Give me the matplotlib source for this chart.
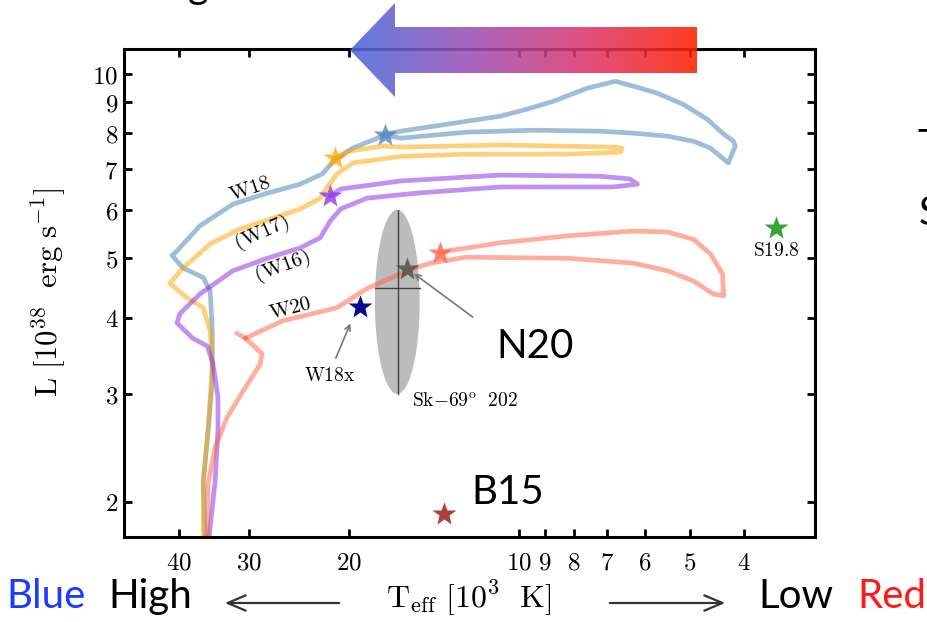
import numpy as np
import matplotlib
matplotlib.use('Agg')
import matplotlib.pyplot as plt
from matplotlib.colors import LinearSegmentedColormap
from matplotlib.patches import Polygon
from matplotlib.ticker import NullLocator

plt.rcParams['mathtext.fontset'] = 'cm'
plt.rcParams['font.family'] = ['DejaVu Sans']

# evolutionary tracks: Teff in 10^3 K, L in 10^38 erg/s
w18_teff = [35.9, 36.2, 35.5, 34.9, 34.9, 35.2, 36.2, 39.3, 41.1, 40.3, 36.7, 32.1,
            27.9, 24.4, 22.3, 21.3, 19.7, 17.3, 16.2, 12.4, 9.44, 7.19, 6.29, 5.47,
            4.92, 4.59, 4.37, 4.27, 4.15, 4.18, 4.35, 4.65, 5.13, 5.70, 6.11, 6.76,
            7.58, 8.71, 9.68, 10.8, 16.2, 17.3]
w18_lum = [1.69, 2.16, 2.61, 3.15, 3.80, 4.42, 4.65, 4.82, 5.05, 5.14, 5.65, 6.13,
           6.39, 6.61, 6.87, 7.21, 7.57, 7.95, 7.86, 8.04, 8.10, 8.07, 8.01, 7.92,
           7.77, 7.57, 7.29, 7.16, 7.63, 7.77, 7.98, 8.44, 8.93, 9.31, 9.49, 9.74,
           9.49, 9.03, 8.77, 8.54, 8.07, 7.98]

w17_teff = [36.2, 36.2, 35.5, 34.9, 35.2, 36.2, 38.7, 41.5, 39.3, 35.2, 31.2, 27.2,
            24.4, 22.5, 21.9, 21.0, 19.7, 16.2, 12.4, 8.22, 6.62, 6.58, 6.82, 10.8,
            16.2, 17.4, 20.1, 21.2]
w17_lum = [1.69, 2.16, 2.61, 3.36, 3.80, 4.15, 4.31, 4.55, 4.82, 5.28, 5.58, 5.82,
           6.02, 6.27, 6.51, 6.87, 7.16, 7.34, 7.40, 7.40, 7.46, 7.57, 7.60, 7.66,
           7.60, 7.63, 7.48, 7.29]

w16_teff = [35.5, 34.5, 34.1, 34.1, 34.8, 35.6, 37.8, 40.3, 39.8, 36.7, 32.1, 27.9,
            24.4, 22.5, 21.6, 20.7, 18.6, 15.2, 10.8, 6.82, 6.18, 6.37, 7.19, 10.8,
            16.2, 20.7, 21.6]
w16_lum = [1.69, 2.16, 2.61, 2.96, 3.36, 3.59, 3.70, 3.92, 4.06, 4.37, 4.77, 5.00,
           5.20, 5.40, 5.75, 6.02, 6.27, 6.39, 6.54, 6.54, 6.61, 6.74, 6.81, 6.84,
           6.69, 6.49, 6.32]

# W20: lower branch up to the hook, then the main track
w20a_teff = [35.6, 35.5, 34.5, 32.9, 30.8, 28.7, 28.5, 30.5]
w20a_lum = [1.69, 2.14, 2.45, 2.74, 3.03, 3.36, 3.49, 3.70]
w20_hook_teff = [31.6, 30.5]
w20_hook_lum = [3.77, 3.70]
w20_teff = [30.5, 26.2, 21.0, 18.6, 16.2, 15.2, 14.2, 12.4, 8.22, 6.29, 5.47, 4.92,
            4.54, 4.35, 4.37, 4.59, 4.92, 5.47, 6.29, 8.22, 10.8, 13.4, 13.8]
w20_lum = [3.70, 3.95, 4.15, 4.46, 4.72, 4.83, 4.92, 5.02, 5.00, 4.91, 4.77, 4.59,
           4.37, 4.34, 4.71, 5.08, 5.37, 5.52, 5.54, 5.44, 5.30, 5.14, 5.10]

# pre-SN positions and other models
star_names = ['W18', 'W17', 'W16', 'W20', 'N20', 'W18x', 'S19.8', 'B15']
star_teff = [17.3, 21.2, 21.6, 13.8, 15.8, 19.1, 3.51, 13.6]
star_lum = [7.95, 7.29, 6.32, 5.10, 4.80, 4.16, 5.60, 1.91]
star_colors = ['#4682b4', '#ffa500', '#8a2be2', '#ff6347', '#444444', '#0a0a90',
               '#2e9e2e', '#a52a2a']
star_alpha = [0.75, 0.75, 0.75, 0.8, 0.75, 1.0, 0.95, 0.9]

# Sk -69 202 (progenitor) error region
sk_teff, sk_teff_lo, sk_teff_hi = 16.4, 15.0, 18.0
sk_lum, sk_lum_lo, sk_lum_hi = 4.47, 3.0, 6.0

track_colors = {'W18': '#4682b4', 'W17': '#ffa500', 'W16': '#8a2be2', 'W20': '#ff6347'}

fig = plt.figure(figsize=(9.28, 6.22), dpi=100)
ax = fig.add_axes([0.1336, 0.1367, 0.7446, 0.7846])

lw = 3.4
ta = 0.52
ax.plot(w18_teff, w18_lum, color=track_colors['W18'], lw=lw, alpha=ta, solid_capstyle='round', solid_joinstyle='round')
ax.plot(w17_teff, w17_lum, color=track_colors['W17'], lw=lw, alpha=ta, solid_capstyle='round', solid_joinstyle='round')
ax.plot(w16_teff, w16_lum, color=track_colors['W16'], lw=lw, alpha=ta, solid_capstyle='round', solid_joinstyle='round')
ax.plot(w20a_teff, w20a_lum, color=track_colors['W20'], lw=lw, alpha=ta, solid_capstyle='round', solid_joinstyle='round')
ax.plot(w20_hook_teff, w20_hook_lum, color=track_colors['W20'], lw=lw, alpha=ta, solid_capstyle='round')
ax.plot(w20_teff, w20_lum, color=track_colors['W20'], lw=lw, alpha=ta, solid_capstyle='round', solid_joinstyle='round')

# error ellipse drawn in log space
t = np.linspace(0, 2 * np.pi, 200)
lt0 = 0.5 * (np.log10(sk_teff_lo) + np.log10(sk_teff_hi))
lt_w = 0.5 * (np.log10(sk_teff_hi) - np.log10(sk_teff_lo))
ll0 = 0.5 * (np.log10(sk_lum_lo) + np.log10(sk_lum_hi))
ll_h = 0.5 * (np.log10(sk_lum_hi) - np.log10(sk_lum_lo))
ax.fill(10 ** (lt0 + lt_w * np.cos(t)), 10 ** (ll0 + ll_h * np.sin(t)),
        color='#a0a0a0', alpha=0.7, lw=0, zorder=1)
ax.plot([sk_teff, sk_teff], [sk_lum_lo, sk_lum_hi], color='#222222', lw=1, alpha=0.8, zorder=2)
ax.plot([sk_teff_lo, sk_teff_hi], [sk_lum, sk_lum], color='#222222', lw=1, alpha=0.8, zorder=2)

for i in range(len(star_names)):
    ax.plot(star_teff[i], star_lum[i], marker='*', ms=18, color=star_colors[i],
            alpha=star_alpha[i], mec='none', zorder=4)

ax.annotate('', xy=(15.5, 4.75), xytext=(11.97, 3.98),
            arrowprops=dict(arrowstyle='->', color='#777777', lw=1.2))
ax.annotate('', xy=(19.8, 3.95), xytext=(21.2, 3.40),
            arrowprops=dict(arrowstyle='->', color='#777777', lw=1.2))

ax.text(29.9, 6.51, r'$\mathrm{W18}$', fontsize=15, rotation=19, ha='center', va='center')
ax.text(28.5, 5.50, r'$\mathrm{(W17)}$', fontsize=15, rotation=24, ha='center', va='center')
ax.text(26.2, 4.85, r'$\mathrm{(W16)}$', fontsize=15, rotation=20, ha='center', va='center')
ax.text(25.4, 4.15, r'$\mathrm{W20}$', fontsize=15, rotation=14, ha='center', va='center')
ax.text(21.6, 3.21, r'$\mathrm{W18x}$', fontsize=14, ha='center', va='center')
ax.text(15.5, 2.93, r'$\mathrm{Sk{-}69^{o}\ \ 202}$', fontsize=14, ha='left', va='center')
ax.text(3.51, 5.14, r'$\mathrm{S19.8}$', fontsize=14, ha='center', va='center')
ax.text(9.37, 3.59, 'N20', fontsize=29, family='Lato', ha='center', va='center')
ax.text(10.46, 2.07, 'B15', fontsize=29, family='Lato', ha='center', va='center')

ax.set_xscale('log')
ax.set_yscale('log')
ax.set_xlim(50, 3)
ax.set_ylim(1.75, 11)

xt = [40, 30, 20, 10, 9, 8, 7, 6, 5, 4]
yt = [2, 3, 4, 5, 6, 7, 8, 9, 10]
ax.xaxis.set_minor_locator(NullLocator())
ax.yaxis.set_minor_locator(NullLocator())
ax.set_xticks(xt)
ax.set_xticklabels([r'$%d$' % v for v in xt])
ax.set_yticks(yt)
ax.set_yticklabels([r'$%d$' % v for v in yt])
ax.tick_params(direction='in', top=True, right=True, length=6, width=2, labelsize=18)
ax.tick_params(axis='x', pad=10)
ax.tick_params(axis='y', pad=4)
for s in ax.spines.values():
    s.set_linewidth(2.2)

ax.set_xlabel(r'$\mathrm{T_{eff}}\ [10^3\ \ \mathrm{K}]$', fontsize=23)
ax.xaxis.set_label_coords(0.499, -0.085)
ax.set_ylabel(r'$\mathrm{L}\ [10^{38}\ \ \mathrm{erg\ s^{-1}}]$', fontsize=22)
ax.yaxis.set_label_coords(-0.08, 0.5)

# overlay in pixel units for the slide decorations
ov = fig.add_axes([0, 0, 1, 1], zorder=5)
ov.set_xlim(0, 928)
ov.set_ylim(622, 0)
ov.axis('off')
ov.patch.set_alpha(0)

cmap = LinearSegmentedColormap.from_list('bluered', ['#4a6adc', '#9a52b8', '#dc3872', '#ff2200'])
grad = np.linspace(0, 1, 256).reshape(1, -1)
im = ov.imshow(grad, cmap=cmap, extent=(350, 697, 97, 3), aspect='auto', alpha=0.88)
arrow_shape = Polygon([(350, 50), (395, 3), (395, 27), (697, 27), (697, 73), (395, 73), (395, 97)],
                      closed=True, transform=ov.transData, facecolor='none', edgecolor='none')
ov.add_patch(arrow_shape)
im.set_clip_path(arrow_shape)
ov.set_xlim(0, 928)
ov.set_ylim(622, 0)

ov.text(6, 608, 'Blue', fontsize=29, family='Lato', color='#1a3cff', va='baseline')
ov.text(108, 608, 'High', fontsize=29, family='Lato', color='black', va='baseline')
ov.text(758, 608, 'Low', fontsize=29, family='Lato', color='black', va='baseline')
ov.text(857, 608, 'Red', fontsize=29, family='Lato', color='#ff1a1a', va='baseline')
ov.annotate('', xy=(222, 603), xytext=(342, 603),
            arrowprops=dict(arrowstyle='->, head_length=1.3, head_width=0.55', color='#333333', lw=1.6))
ov.annotate('', xy=(728, 603), xytext=(607, 603),
            arrowprops=dict(arrowstyle='->, head_length=1.3, head_width=0.55', color='#333333', lw=1.6))

# slide text cut off at the edges
ov.text(188, -2, 'g', fontsize=29, family='Lato', va='baseline', clip_on=True)
ov.text(917, 158, 'T', fontsize=29, family='Lato', va='baseline', clip_on=True)
ov.text(919, 225, 'S', fontsize=29, family='Lato', va='baseline', clip_on=True)

fig.savefig('out.png', dpi=100)
